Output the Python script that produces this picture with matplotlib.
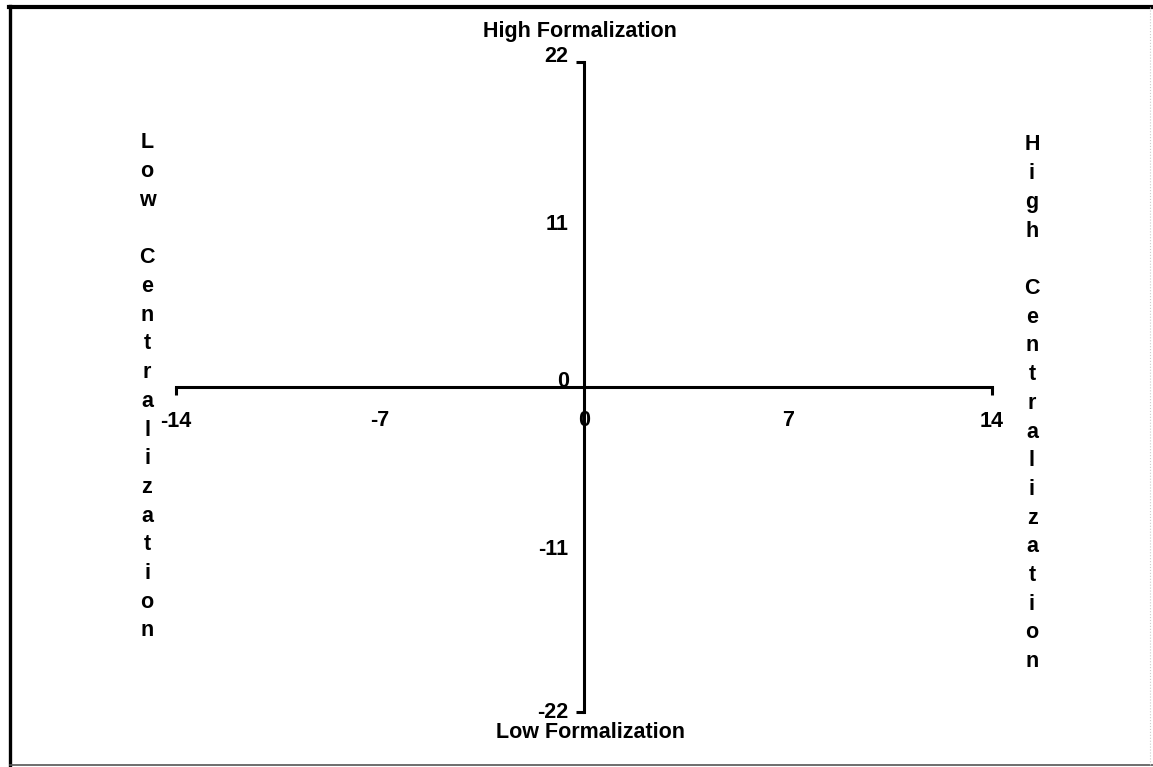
#!/usr/bin/env python

import matplotlib
matplotlib.use("Agg")
import matplotlib.pyplot as plt
from matplotlib.lines import Line2D

# axis ranges and tick labels
x_end_ticks = [-14, 14]
x_mid_ticks = [-7, 0, 7]
y_end_ticks = [-22, 22]
y_mid_ticks = [-11, 0, 11]

top_label = "High Formalization"
bottom_label = "Low Formalization"
left_label = "Low Centralization"
right_label = "High Centralization"

W, H = 1153, 767
plt.rcParams['font.family'] = ['Liberation Sans', 'DejaVu Sans']
plt.rcParams['font.weight'] = 'bold'
fsize = 15.5

fig = plt.figure(figsize=(W / 100, H / 100), dpi=100)
fig.patch.set_facecolor('white')

# axes box: -14..14 spans px 176..992, 22..-22 spans px 62..712
ax = fig.add_axes([176 / W, 1 - 712 / H, (992 - 176) / W, (712 - 62) / H])
ax.set_xlim(-14, 14)
ax.set_ylim(-22, 22)

for s in ['top', 'right']:
    ax.spines[s].set_visible(False)
ax.spines['left'].set_position(('data', 0))
ax.spines['bottom'].set_position(('data', 0))
ax.spines['left'].set_linewidth(2.2)
ax.spines['bottom'].set_linewidth(2.2)
ax.spines['left'].set_capstyle('projecting')
ax.spines['bottom'].set_capstyle('projecting')

# end ticks are the only visible ones, middle ones just carry labels
ax.set_xticks(x_end_ticks, labels=[str(v) for v in x_end_ticks])
ax.set_xticks(x_mid_ticks, labels=[str(v) for v in x_mid_ticks], minor=True)
ax.set_yticks(y_end_ticks, labels=[str(v) for v in y_end_ticks])
ax.set_yticks(y_mid_ticks, labels=[str(v) for v in y_mid_ticks], minor=True)

ax.tick_params(axis='x', which='major', direction='out', length=6, width=2.2, pad=11, labelsize=fsize)
ax.tick_params(axis='x', which='minor', length=0, pad=16.5, labelsize=fsize)
ax.tick_params(axis='y', which='major', direction='out', length=6, width=2.2, pad=5, labelsize=fsize)
ax.tick_params(axis='y', which='minor', length=0, pad=11, labelsize=fsize)
for lab in ax.get_xticklabels(which='both') + ax.get_yticklabels(which='both'):
    lab.set_fontweight('bold')

# 22 and 0 sit on their tick like a baseline, the rest are centred on it
for lab, v in zip(ax.get_yticklabels(), y_end_ticks):
    lab.set_verticalalignment('baseline' if v > 0 else 'center')
for lab, v in zip(ax.get_yticklabels(minor=True), y_mid_ticks):
    lab.set_verticalalignment('baseline' if v == 0 else 'center')

# formalization labels above and below the vertical axis
fig.text(580 / W, 1 - 32 / H, top_label, ha='center', va='center', fontsize=fsize, fontweight='bold')
fig.text(590 / W, 1 - 732 / H, bottom_label, ha='center', va='center', fontsize=fsize, fontweight='bold')

# centralization labels are stacked one letter per line
step = 28.7
for i, ch in enumerate(left_label):
    fig.text(147 / W, 1 - (143 + i * step) / H, ch, ha='center', va='center',
             fontsize=fsize, fontweight='bold')
for i, ch in enumerate(right_label):
    fig.text(1032 / W, 1 - (145 + i * step) / H, ch, ha='center', va='center',
             fontsize=fsize, fontweight='bold')

# frame round the figure (thick left/top, faint bottom/right like the scan)
fig.add_artist(Line2D([10 / W, 10 / W], [1 - 6 / H, 1 - 765 / H], color='black', lw=2.4))
fig.add_artist(Line2D([9 / W, 1.0], [1 - 7 / H, 1 - 7 / H], color='black', lw=3.0))
fig.add_artist(Line2D([10 / W, 1.0], [1 - 765 / H, 1 - 765 / H], color='#555555', lw=1.2))
fig.add_artist(Line2D([1150 / W, 1150 / W], [1 - 7 / H, 1 - 765 / H], color='#cccccc', lw=0.8, ls=':'))

plt.savefig("out.png", dpi=100)
